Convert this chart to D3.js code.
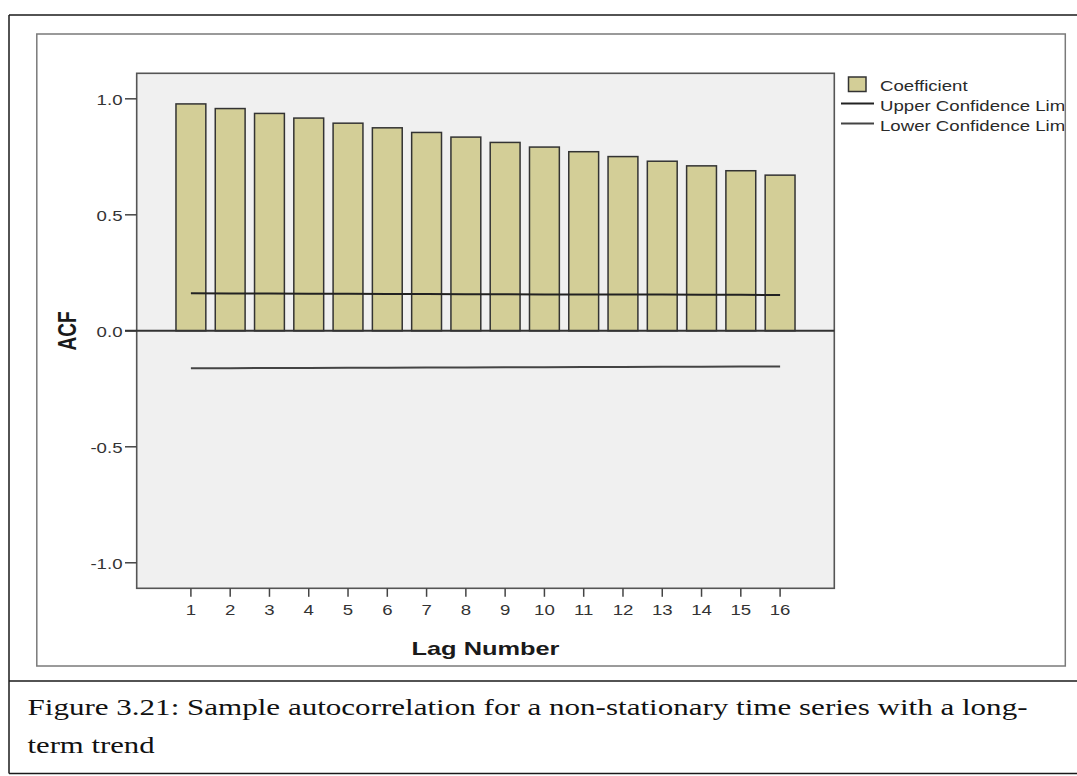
<!DOCTYPE html>
<html>
<head>
<meta charset="utf-8">
<script src="https://cdn.jsdelivr.net/npm/d3@7"></script>
<style>
  html, body { margin: 0; padding: 0; background: #ffffff; }
  svg { display: block; }
</style>
</head>
<body>
<svg id="chart" width="1077" height="776"></svg>
<script>
// ---- data ----
const lags = [1, 2, 3, 4, 5, 6, 7, 8, 9, 10, 11, 12, 13, 14, 15, 16];
const coefficient = [0.978, 0.958, 0.937, 0.917, 0.895, 0.875, 0.855, 0.835, 0.812, 0.792, 0.772, 0.751, 0.731, 0.711, 0.690, 0.671];
const upperLimit = [0.162, 0.161, 0.161, 0.160, 0.160, 0.159, 0.159, 0.158, 0.158, 0.157, 0.157, 0.156, 0.156, 0.155, 0.155, 0.154];
const lowerLimit = [-0.161, -0.161, -0.160, -0.160, -0.159, -0.159, -0.158, -0.158, -0.157, -0.157, -0.156, -0.156, -0.155, -0.155, -0.154, -0.154];
const yTicks = [-1.0, -0.5, 0.0, 0.5, 1.0];
const yTickLabels = ["-1.0", "-0.5", "0.0", "0.5", "1.0"];
const legendLabels = ["Coefficient", "Upper Confidence Limit", "Lower Confidence Limit"];
const yTitle = "ACF";
const xTitle = "Lag Number";
const captionLines = ["Figure 3.21: Sample autocorrelation for a non-stationary time series with a long-", "term trend"];

// ---- layout ----
const SX = 1.33; // horizontal stretch of the source image text
const plot = { left: 136.7, right: 834.3, top: 73.3, bottom: 588.3 };
const svg = d3.select("#chart");

const x = d3.scaleBand().domain(lags).range([plot.left, plot.right]).paddingInner(0.24).paddingOuter(1.0);
const y = d3.scaleLinear().domain([-1.11, 1.11]).range([plot.bottom, plot.top]);

function stretchedText(parent, tx, ty, str, opts) {
  const g = parent.append("g").attr("transform", `translate(${tx},${ty}) scale(${SX},1)` + (opts.rotate ? ` rotate(${opts.rotate})` : ""));
  return g.append("text")
    .attr("x", 0).attr("y", 0)
    .attr("text-anchor", opts.anchor || "start")
    .attr("font-family", "'Liberation Sans', Arial, sans-serif")
    .attr("font-size", opts.size)
    .attr("font-weight", opts.weight || "normal")
    .attr("fill", opts.fill || "#333")
    .text(str);
}

// outer document frame
const frameStroke = "#1a1a1a";
svg.append("line").attr("x1", 9).attr("x2", 1077).attr("y1", 15).attr("y2", 15).attr("stroke", frameStroke).attr("stroke-width", 1.5);
svg.append("line").attr("x1", 9).attr("x2", 9).attr("y1", 15).attr("y2", 773.5).attr("stroke", frameStroke).attr("stroke-width", 1.5);
svg.append("line").attr("x1", 9).attr("x2", 1077).attr("y1", 681).attr("y2", 681).attr("stroke", frameStroke).attr("stroke-width", 1.5);
svg.append("line").attr("x1", 9).attr("x2", 1077).attr("y1", 773.5).attr("y2", 773.5).attr("stroke", frameStroke).attr("stroke-width", 1.5);

// inner chart frame
svg.append("rect").attr("x", 36.8).attr("y", 34).attr("width", 1065.3 - 36.8).attr("height", 666 - 34)
  .attr("fill", "#ffffff").attr("stroke", "#7a7a7a").attr("stroke-width", 1.5);

// plot area
svg.append("rect").attr("x", plot.left).attr("y", plot.top).attr("width", plot.right - plot.left).attr("height", plot.bottom - plot.top)
  .attr("fill", "#f0f0f0").attr("stroke", "#555").attr("stroke-width", 1.6);

// y axis ticks + labels
const yAxisG = svg.append("g");
yTicks.forEach((v, i) => {
  yAxisG.append("line").attr("x1", 125).attr("x2", plot.left).attr("y1", y(v)).attr("y2", y(v)).attr("stroke", "#444").attr("stroke-width", 1.5);
  stretchedText(yAxisG, 122.5, y(v) + 6, yTickLabels[i], { anchor: "end", size: 14, fill: "#333" });
});

// x axis ticks + labels
const xAxisG = svg.append("g");
lags.forEach(l => {
  const cx = x(l) + x.bandwidth() / 2;
  xAxisG.append("line").attr("x1", cx).attr("x2", cx).attr("y1", plot.bottom).attr("y2", plot.bottom + 8.5).attr("stroke", "#444").attr("stroke-width", 1.5);
  stretchedText(xAxisG, cx, 615, String(l), { anchor: "middle", size: 14, fill: "#333" });
});

// bars
svg.append("g").selectAll("rect").data(lags).join("rect")
  .attr("x", d => x(d))
  .attr("width", x.bandwidth())
  .attr("y", (d, i) => y(coefficient[i]))
  .attr("height", (d, i) => y(0) - y(coefficient[i]))
  .attr("fill", "#d3ce97")
  .attr("stroke", "#333")
  .attr("stroke-width", 1.5);

// zero reference line
svg.append("line").attr("x1", 125).attr("x2", plot.right).attr("y1", y(0)).attr("y2", y(0)).attr("stroke", "#333").attr("stroke-width", 2);

// confidence limits
const lineGen = d3.line().x((d, i) => x(lags[i]) + x.bandwidth() / 2).y(d => y(d));
svg.append("path").datum(upperLimit).attr("d", lineGen).attr("fill", "none").attr("stroke", "#222").attr("stroke-width", 2);
svg.append("path").datum(lowerLimit).attr("d", lineGen).attr("fill", "none").attr("stroke", "#444").attr("stroke-width", 2);

// axis titles
stretchedText(svg, 75.5, 331, yTitle, { anchor: "middle", size: 19, weight: "bold", fill: "#1a1a1a", rotate: -90 });
svg.append("text")
  .attr("x", 411.5).attr("y", 655)
  .attr("font-family", "'Liberation Sans', Arial, sans-serif")
  .attr("font-size", 19).attr("font-weight", "bold").attr("fill", "#1a1a1a")
  .attr("textLength", 148).attr("lengthAdjust", "spacingAndGlyphs")
  .text(xTitle);

// legend (clipped by the chart frame)
svg.append("clipPath").attr("id", "legclip").append("rect").attr("x", 836).attr("y", 60).attr("width", 1064.5 - 836).attr("height", 100);
const leg = svg.append("g").attr("clip-path", "url(#legclip)");
leg.append("rect").attr("x", 848.5).attr("y", 77).attr("width", 17.5).attr("height", 14.5)
  .attr("fill", "#d3ce97").attr("stroke", "#333").attr("stroke-width", 1.5);
stretchedText(leg, 880, 91, legendLabels[0], { size: 14, fill: "#2a2a2a" });
leg.append("line").attr("x1", 841).attr("x2", 874).attr("y1", 103.5).attr("y2", 103.5).attr("stroke", "#222").attr("stroke-width", 2);
stretchedText(leg, 880, 110.5, legendLabels[1], { size: 14, fill: "#2a2a2a" });
leg.append("line").attr("x1", 841).attr("x2", 874).attr("y1", 123.5).attr("y2", 123.5).attr("stroke", "#444").attr("stroke-width", 2);
stretchedText(leg, 880, 130.5, legendLabels[2], { size: 14, fill: "#2a2a2a" });

// caption
const cap = svg.append("g")
  .attr("font-family", "'Liberation Serif', 'Times New Roman', serif")
  .attr("font-size", 24).attr("fill", "#111");
cap.append("text").attr("x", 27.5).attr("y", 715).attr("textLength", 1000).attr("lengthAdjust", "spacingAndGlyphs").text(captionLines[0]);
cap.append("text").attr("x", 27.5).attr("y", 753).attr("textLength", 127).attr("lengthAdjust", "spacingAndGlyphs").text(captionLines[1]);
</script>
</body>
</html>
